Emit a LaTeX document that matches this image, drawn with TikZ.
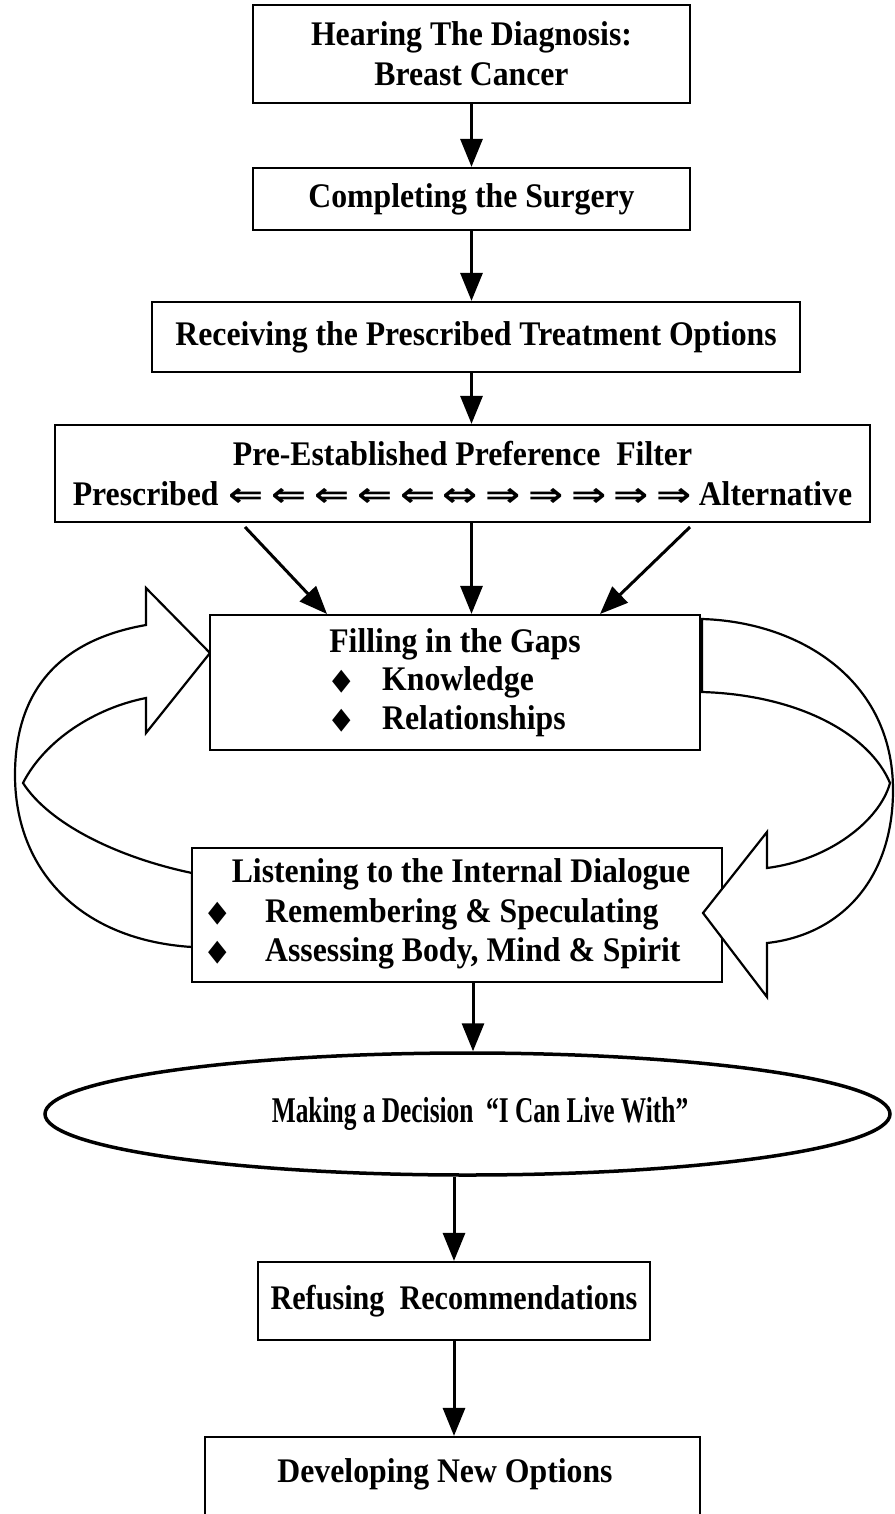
\documentclass[tikz,border=0pt]{standalone}
\usepackage{fontspec}
\setmainfont{Liberation Serif}[FakeStretch=0.92]
\newfontfamily\symfont{DejaVu Sans}
\usepackage{graphicx}
\usetikzlibrary{arrows.meta,shapes.geometric}
\newcommand{\ar}[1]{\hspace{0.22em}\raisebox{-1pt}{\symfont\fontsize{42}{42}\selectfont\scalebox{1}[0.8]{#1}}}
\newcommand{\dia}{{\symfont\fontsize{30}{30}\selectfont\scalebox{0.8}[1]{◆}}}
\tikzset{
  box/.style={draw, line width=2.2pt, fill=white, inner sep=0pt, align=center,
              font=\fontsize{34.5}{40}\selectfont\bfseries},
  txt/.style={inner sep=0pt, font=\fontsize{34.5}{40}\selectfont\bfseries},
  bul/.style={inner sep=0pt},
  conn/.style={line width=3pt, -{Triangle[length=28pt,width=22pt]}},
  ribbon/.style={draw, line width=2.2pt, fill=white, line join=miter}
}
\begin{document}
\begin{tikzpicture}[x=1pt,y=-1pt]
\path[use as bounding box] (0,0) rectangle (894,1514);
\clip (0,0) rectangle (894,1514);

% left curved block arrow (drawn behind the boxes)
\path[ribbon] (192,873) .. controls (120,858) and (50,825) .. (23,783)
   .. controls (45,740) and (95,708) .. (146,698)
   -- (146,733) -- (210,653) -- (146,588) -- (146,625)
   .. controls (60,640) and (15,690) .. (15,775)
   .. controls (15,870) and (80,940) .. (192,947) -- cycle;

\node[box, minimum width=437pt, minimum height=98pt] (b1) at (471.5,54)
  {Hearing The Diagnosis:\\Breast Cancer};
\node[box, minimum width=437pt, minimum height=62pt] (b2) at (471.5,199)
  {Completing the Surgery};
\node[box, minimum width=648pt, minimum height=70pt] (b3) at (476,337)
  {Receiving the Prescribed Treatment Options};
\node[box, minimum width=815pt, minimum height=97pt] (b4) at (462.5,473.5)
  {Pre-Established Preference\ \ Filter\\
   Prescribed\hspace{0.08em}\ar{⇐}\ar{⇐}\ar{⇐}\ar{⇐}\ar{⇐}\ar{⇔}\ar{⇒}\ar{⇒}\ar{⇒}\ar{⇒}\ar{⇒}\hspace{0.2em}Alternative};
\node[box, minimum width=490pt, minimum height=135pt] (b5) at (455,682.5) {};
\node[box, minimum width=530pt, minimum height=134pt] (b6) at (457,915) {};
\node[box, ellipse, line width=3.5pt, minimum width=845pt, minimum height=122pt]
  (e) at (467.5,1114) {};
\node[box, minimum width=392pt, minimum height=78pt] (b7) at (454,1301)
  {\scalebox{0.95}[1]{Refusing\ \ Recommendations}};
\node[box, minimum width=495pt, minimum height=162pt] (b8) at (452.5,1518) {};

% texts of boxes 5, 6, ellipse, 8
\node[txt, anchor=base] (t5) at (455,652) {Filling in the Gaps};
\node[bul, anchor=base] (d5a) at (342,689) {\dia};
\node[txt, anchor=base west] (t5a) at (382,690) {Knowledge};
\node[bul, anchor=base] (d5b) at (342,728) {\dia};
\node[txt, anchor=base west] (t5b) at (382,729) {Relationships};

\node[txt, anchor=base] (t6) at (461,882) {Listening to the Internal Dialogue};
\node[bul, anchor=base] (d6a) at (218,921) {\dia};
\node[txt, anchor=base west] (t6a) at (265,922) {Remembering \& Speculating};
\node[bul, anchor=base] (d6b) at (218,960) {\dia};
\node[txt, anchor=base west] (t6b) at (265,961) {Assessing Body, Mind \& Spirit};

\node[txt, anchor=base] (te) at (480,1122)
  {\scalebox{0.8}[1.05]{Making a Decision\ \ “I Can Live With”}};
\node[txt, anchor=base] (t8) at (445,1482) {Developing New Options};

% right curved block arrow (on top of box 6)
\path[ribbon] (702,619) .. controls (800,622) and (893,680) .. (893,790)
   .. controls (893,880) and (840,935) .. (767,943)
   -- (767,997) -- (703,913) -- (767,832) -- (767,868)
   .. controls (830,860) and (880,820) .. (890,783)
   .. controls (870,735) and (800,695) .. (702,692) -- cycle;

% connectors
\coordinate (d1s) at (245,527);  \coordinate (d1e) at (327,614);
\coordinate (d3s) at (690,527);  \coordinate (d3e) at (600,614);
\draw[conn] (b1.south) -- (b2.north);
\draw[conn] (b2.south) -- (b2.south |- b3.north);
\draw[conn] (b3.south -| b2.south) -- (b2.south |- b4.north);
\draw[conn] (d1s) -- (d1e);
\draw[conn] (b4.south -| b2.south) -- (b2.south |- b5.north);
\draw[conn] (d3s) -- (d3e);
\draw[conn] (b6.south -| 473,0) -- (e.north -| 473,0);
\draw[conn] (e.south -| b7.north) -- (b7.north);
\draw[conn] (b7.south) -- (b8.north -| b7.south);
\end{tikzpicture}
\end{document}
